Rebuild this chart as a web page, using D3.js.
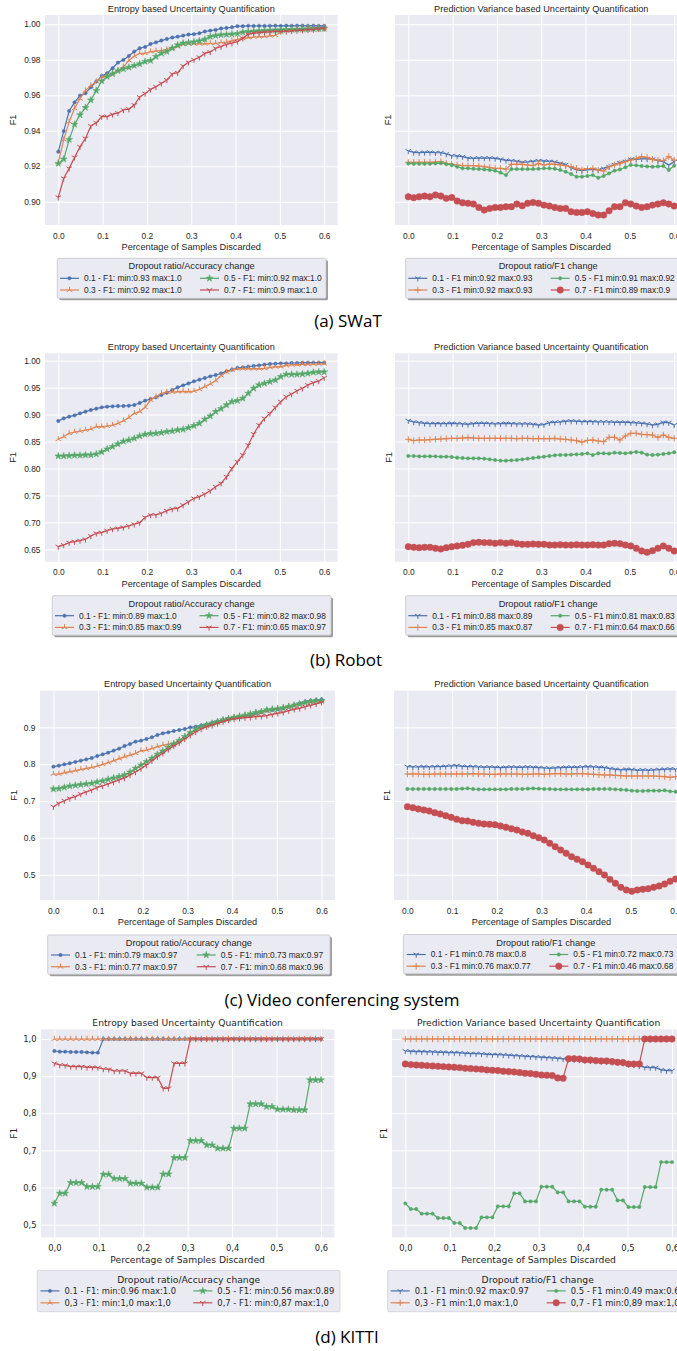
<!DOCTYPE html>
<html>
<head>
<meta charset="utf-8">
<script src="https://cdn.jsdelivr.net/npm/d3@7"></script>
<style>
  body { margin: 0; background: #fff; }
  svg { display: block; }
</style>
</head>
<body>
<script>
// x: 50 evaluation points between 0 and 0.6 (share of samples discarded)
var xs = d3.range(50).map(function(i) { return i * 0.6 / 49; });
var xTickVals = [0, 0.1, 0.2, 0.3, 0.4, 0.5, 0.6];

// ---- (a) SWaT ----
var swatEnt01 = [0.9282,0.9398,0.9511,0.9560,0.9598,0.9611,0.9645,0.9677,0.9709,0.9724,
  0.9752,0.9784,0.9799,0.9821,0.9846,0.9865,0.9872,0.9889,0.9898,0.9908,
  0.9917,0.9925,0.9930,0.9936,0.9942,0.9944,0.9949,0.9959,0.9964,0.9968,
  0.9976,0.9979,0.9983,0.9989,0.9989,0.9991,0.9990,0.9991,0.9990,0.9991,
  0.9992,0.9991,0.9992,0.9991,0.9992,0.9992,0.9991,0.9992,0.9991,0.9991];
var swatEnt03 = [0.9222,0.9350,0.9450,0.9526,0.9580,0.9626,0.9654,0.9677,0.9705,0.9710,
  0.9724,0.9740,0.9760,0.9795,0.9820,0.9836,0.9836,0.9846,0.9850,0.9852,
  0.9858,0.9865,0.9874,0.9888,0.9890,0.9890,0.9890,0.9890,0.9893,0.9893,
  0.9897,0.9900,0.9908,0.9915,0.9920,0.9925,0.9928,0.9930,0.9932,0.9935,
  0.9938,0.9955,0.9965,0.9970,0.9974,0.9976,0.9978,0.9980,0.9980,0.9981];
var swatEnt05 = [0.9215,0.9240,0.9350,0.9436,0.9489,0.9530,0.9573,0.9626,0.9680,0.9705,
  0.9720,0.9737,0.9748,0.9757,0.9767,0.9776,0.9790,0.9795,0.9818,0.9836,
  0.9846,0.9865,0.9883,0.9893,0.9897,0.9900,0.9906,0.9915,0.9930,0.9936,
  0.9940,0.9942,0.9944,0.9947,0.9955,0.9959,0.9960,0.9962,0.9964,0.9966,
  0.9967,0.9968,0.9969,0.9970,0.9971,0.9972,0.9973,0.9974,0.9975,0.9976];
var swatEnt07 = [0.9025,0.9132,0.9188,0.9250,0.9310,0.9357,0.9427,0.9445,0.9480,0.9480,
  0.9492,0.9500,0.9517,0.9522,0.9545,0.9590,0.9610,0.9633,0.9648,0.9667,
  0.9686,0.9720,0.9727,0.9765,0.9786,0.9800,0.9814,0.9836,0.9844,0.9865,
  0.9874,0.9887,0.9893,0.9902,0.9921,0.9944,0.9950,0.9953,0.9955,0.9957,
  0.9959,0.9959,0.9960,0.9962,0.9964,0.9966,0.9968,0.9970,0.9974,0.9976];
var swatVar01 = [0.9286,0.9278,0.9276,0.9278,0.9278,0.9276,0.9276,0.9269,0.9259,0.9257,
  0.9254,0.9246,0.9244,0.9246,0.9246,0.9246,0.9244,0.9239,0.9233,0.9231,
  0.9227,0.9222,0.9224,0.9227,0.9231,0.9229,0.9227,0.9224,0.9216,0.9209,
  0.9192,0.9179,0.9175,0.9179,0.9182,0.9179,0.9188,0.9197,0.9209,0.9220,
  0.9227,0.9239,0.9239,0.9242,0.9241,0.9239,0.9231,0.9226,0.9207,0.9226];
var swatVar03 = [0.9222,0.9222,0.9222,0.9222,0.9222,0.9224,0.9226,0.9216,0.9212,0.9207,
  0.9203,0.9203,0.9203,0.9201,0.9197,0.9194,0.9188,0.9188,0.9184,0.9211,
  0.9211,0.9211,0.9207,0.9203,0.9216,0.9207,0.9212,0.9211,0.9207,0.9203,
  0.9197,0.9188,0.9182,0.9186,0.9188,0.9179,0.9173,0.9197,0.9207,0.9216,
  0.9226,0.9235,0.9244,0.9254,0.9250,0.9239,0.9235,0.9231,0.9254,0.9235];
var swatVar05 = [0.9216,0.9214,0.9214,0.9214,0.9214,0.9216,0.9218,0.9212,0.9207,0.9197,
  0.9188,0.9188,0.9186,0.9184,0.9182,0.9179,0.9175,0.9164,0.9150,0.9184,
  0.9184,0.9184,0.9184,0.9184,0.9186,0.9188,0.9188,0.9186,0.9179,0.9169,
  0.9156,0.9141,0.9141,0.9145,0.9150,0.9135,0.9145,0.9160,0.9175,0.9182,
  0.9194,0.9207,0.9205,0.9201,0.9199,0.9197,0.9199,0.9201,0.9179,0.9203];
var swatVar07 = [0.9028,0.9023,0.9028,0.9032,0.9028,0.9038,0.9032,0.9019,0.9024,0.9004,
  0.8994,0.8991,0.8987,0.8968,0.8953,0.8962,0.8968,0.8968,0.8972,0.8972,
  0.8987,0.8977,0.8991,0.8996,0.8991,0.8981,0.8976,0.8968,0.8962,0.8962,
  0.8944,0.8940,0.8940,0.8944,0.8934,0.8925,0.8925,0.8949,0.8972,0.8972,
  0.8994,0.8987,0.8976,0.8968,0.8972,0.8981,0.8987,0.8994,0.8987,0.8976];

// ---- (b) Robot ----
var robotEnt01 = [0.8881,0.8930,0.8961,0.8986,0.9023,0.9054,0.9085,0.9110,0.9134,0.9147,
  0.9153,0.9159,0.9159,0.9165,0.9178,0.9215,0.9258,0.9289,0.9320,0.9363,
  0.9406,0.9456,0.9505,0.9542,0.9579,0.9617,0.9648,0.9678,0.9709,0.9734,
  0.9765,0.9802,0.9833,0.9864,0.9876,0.9889,0.9901,0.9913,0.9926,0.9938,
  0.9944,0.9951,0.9951,0.9957,0.9957,0.9963,0.9963,0.9963,0.9963,0.9963];
var robotEnt03 = [0.8541,0.8590,0.8652,0.8677,0.8695,0.8714,0.8732,0.8776,0.8776,0.8788,
  0.8806,0.8837,0.8887,0.8943,0.9023,0.9054,0.9134,0.9270,0.9332,0.9394,
  0.9419,0.9419,0.9425,0.9431,0.9425,0.9437,0.9468,0.9518,0.9567,0.9629,
  0.9722,0.9790,0.9827,0.9852,0.9852,0.9852,0.9852,0.9852,0.9858,0.9876,
  0.9889,0.9889,0.9913,0.9926,0.9926,0.9932,0.9932,0.9938,0.9938,0.9944];
var robotEnt05 = [0.8231,0.8231,0.8237,0.8244,0.8244,0.8250,0.8250,0.8268,0.8306,0.8361,
  0.8405,0.8454,0.8503,0.8528,0.8559,0.8602,0.8633,0.8646,0.8652,0.8664,
  0.8683,0.8695,0.8714,0.8726,0.8757,0.8794,0.8837,0.8912,0.8973,0.9054,
  0.9110,0.9178,0.9240,0.9258,0.9301,0.9394,0.9487,0.9549,0.9579,0.9610,
  0.9641,0.9703,0.9746,0.9746,0.9746,0.9753,0.9765,0.9784,0.9790,0.9790];
var robotEnt07 = [0.6549,0.6580,0.6624,0.6642,0.6661,0.6686,0.6747,0.6797,0.6810,0.6846,
  0.6877,0.6890,0.6908,0.6933,0.6964,0.6995,0.7094,0.7137,0.7137,0.7168,
  0.7217,0.7248,0.7260,0.7322,0.7384,0.7446,0.7477,0.7526,0.7588,0.7662,
  0.7724,0.7848,0.8003,0.8126,0.8250,0.8435,0.8640,0.8806,0.8930,0.9023,
  0.9134,0.9240,0.9332,0.9382,0.9443,0.9487,0.9549,0.9592,0.9623,0.9685];
var robotVar01 = [0.8887,0.8862,0.8850,0.8837,0.8831,0.8831,0.8831,0.8831,0.8837,0.8831,
  0.8825,0.8819,0.8831,0.8837,0.8837,0.8831,0.8825,0.8831,0.8837,0.8831,
  0.8825,0.8825,0.8825,0.8819,0.8806,0.8813,0.8850,0.8856,0.8862,0.8874,
  0.8881,0.8874,0.8868,0.8868,0.8868,0.8862,0.8862,0.8862,0.8856,0.8856,
  0.8856,0.8850,0.8844,0.8837,0.8825,0.8806,0.8819,0.8856,0.8850,0.8806];
var robotVar03 = [0.8541,0.8516,0.8528,0.8528,0.8534,0.8541,0.8547,0.8553,0.8559,0.8559,
  0.8565,0.8571,0.8565,0.8559,0.8559,0.8559,0.8559,0.8559,0.8559,0.8559,
  0.8553,0.8559,0.8559,0.8553,0.8553,0.8553,0.8553,0.8559,0.8547,0.8541,
  0.8528,0.8516,0.8491,0.8522,0.8528,0.8510,0.8497,0.8578,0.8578,0.8528,
  0.8602,0.8652,0.8652,0.8633,0.8627,0.8621,0.8578,0.8621,0.8578,0.8559];
var robotVar05 = [0.8231,0.8231,0.8225,0.8225,0.8225,0.8225,0.8219,0.8219,0.8213,0.8200,
  0.8194,0.8188,0.8188,0.8188,0.8182,0.8169,0.8157,0.8145,0.8145,0.8151,
  0.8157,0.8169,0.8182,0.8194,0.8207,0.8219,0.8231,0.8244,0.8250,0.8250,
  0.8256,0.8262,0.8268,0.8281,0.8250,0.8281,0.8281,0.8275,0.8293,0.8287,
  0.8281,0.8293,0.8306,0.8293,0.8256,0.8250,0.8256,0.8268,0.8281,0.8300];
var robotVar07 = [0.6549,0.6537,0.6531,0.6537,0.6537,0.6518,0.6506,0.6531,0.6549,0.6562,
  0.6574,0.6593,0.6624,0.6630,0.6624,0.6624,0.6611,0.6624,0.6611,0.6624,
  0.6605,0.6593,0.6593,0.6599,0.6593,0.6593,0.6580,0.6580,0.6586,0.6580,
  0.6580,0.6586,0.6580,0.6580,0.6586,0.6580,0.6580,0.6605,0.6611,0.6605,
  0.6580,0.6562,0.6518,0.6469,0.6444,0.6475,0.6518,0.6562,0.6518,0.6469];

// ---- (c) Video conferencing system ----
var videoEnt01 = [0.7932,0.7959,0.7995,0.8023,0.8059,0.8095,0.8131,0.8167,0.8222,0.8267,
  0.8312,0.8367,0.8421,0.8493,0.8548,0.8611,0.8638,0.8683,0.8729,0.8792,
  0.8837,0.8864,0.8900,0.8928,0.8955,0.9000,0.9018,0.9054,0.9081,0.9127,
  0.9163,0.9199,0.9235,0.9262,0.9281,0.9308,0.9335,0.9380,0.9407,0.9452,
  0.9471,0.9489,0.9516,0.9561,0.9606,0.9652,0.9697,0.9724,0.9742,0.9760];
var videoEnt03 = [0.7733,0.7733,0.7769,0.7796,0.7824,0.7860,0.7887,0.7914,0.7950,0.7995,
  0.8041,0.8095,0.8149,0.8204,0.8249,0.8294,0.8367,0.8385,0.8430,0.8475,
  0.8520,0.8548,0.8566,0.8656,0.8747,0.8837,0.8928,0.9000,0.9036,0.9081,
  0.9136,0.9199,0.9235,0.9271,0.9308,0.9326,0.9353,0.9398,0.9425,0.9462,
  0.9498,0.9516,0.9543,0.9579,0.9606,0.9633,0.9670,0.9697,0.9724,0.9724];
var videoEnt05 = [0.7326,0.7335,0.7371,0.7407,0.7425,0.7443,0.7462,0.7480,0.7516,0.7543,
  0.7588,0.7624,0.7661,0.7706,0.7787,0.7887,0.7977,0.8068,0.8158,0.8267,
  0.8357,0.8457,0.8548,0.8638,0.8747,0.8855,0.8946,0.9018,0.9063,0.9109,
  0.9154,0.9199,0.9235,0.9271,0.9299,0.9326,0.9362,0.9398,0.9425,0.9471,
  0.9489,0.9498,0.9525,0.9561,0.9597,0.9633,0.9670,0.9697,0.9715,0.9724];
var videoEnt07 = [0.6846,0.6937,0.7009,0.7072,0.7118,0.7190,0.7244,0.7299,0.7371,0.7407,
  0.7462,0.7516,0.7570,0.7624,0.7706,0.7787,0.7878,0.7977,0.8095,0.8204,
  0.8294,0.8403,0.8493,0.8584,0.8683,0.8783,0.8873,0.8955,0.9018,0.9054,
  0.9109,0.9154,0.9199,0.9226,0.9244,0.9262,0.9271,0.9290,0.9299,0.9317,
  0.9353,0.9380,0.9407,0.9452,0.9489,0.9516,0.9561,0.9597,0.9633,0.9679];
var videoVar01 = [0.7932,0.7923,0.7923,0.7932,0.7923,0.7932,0.7932,0.7941,0.7950,0.7959,
  0.7941,0.7932,0.7932,0.7923,0.7914,0.7923,0.7914,0.7905,0.7914,0.7923,
  0.7914,0.7914,0.7923,0.7914,0.7905,0.7896,0.7887,0.7896,0.7905,0.7914,
  0.7914,0.7914,0.7923,0.7932,0.7923,0.7914,0.7905,0.7878,0.7860,0.7842,
  0.7860,0.7851,0.7833,0.7842,0.7833,0.7842,0.7851,0.7860,0.7869,0.7860];
var videoVar03 = [0.7733,0.7733,0.7733,0.7724,0.7724,0.7733,0.7733,0.7733,0.7733,0.7733,
  0.7733,0.7733,0.7742,0.7733,0.7733,0.7724,0.7724,0.7733,0.7733,0.7733,
  0.7733,0.7724,0.7724,0.7733,0.7733,0.7724,0.7733,0.7742,0.7742,0.7733,
  0.7733,0.7742,0.7742,0.7733,0.7724,0.7715,0.7706,0.7706,0.7697,0.7688,
  0.7679,0.7679,0.7679,0.7679,0.7679,0.7679,0.7670,0.7661,0.7643,0.7661];
var videoVar05 = [0.7326,0.7326,0.7326,0.7326,0.7326,0.7326,0.7326,0.7326,0.7326,0.7326,
  0.7335,0.7344,0.7326,0.7317,0.7317,0.7317,0.7317,0.7317,0.7317,0.7326,
  0.7326,0.7326,0.7335,0.7344,0.7335,0.7326,0.7326,0.7317,0.7317,0.7317,
  0.7317,0.7317,0.7317,0.7317,0.7326,0.7326,0.7326,0.7326,0.7317,0.7308,
  0.7299,0.7281,0.7271,0.7271,0.7281,0.7281,0.7281,0.7290,0.7262,0.7253];
var videoVar07 = [0.6846,0.6819,0.6783,0.6756,0.6729,0.6683,0.6647,0.6602,0.6557,0.6502,
  0.6466,0.6457,0.6421,0.6394,0.6376,0.6367,0.6357,0.6321,0.6285,0.6249,
  0.6213,0.6158,0.6122,0.6059,0.6004,0.5941,0.5851,0.5760,0.5670,0.5579,
  0.5489,0.5416,0.5353,0.5262,0.5172,0.5081,0.4991,0.4873,0.4765,0.4656,
  0.4584,0.4548,0.4584,0.4602,0.4620,0.4656,0.4692,0.4747,0.4819,0.4882];

// ---- (d) KITTI ----
var kittiEnt01 = [0.9677,0.9659,0.9659,0.9650,0.9650,0.9650,0.9641,0.9632,0.9632,1.0,
  1.0,1.0,1.0,1.0,1.0,1.0,1.0,1.0,1.0,1.0,
  1.0,1.0,1.0,1.0,1.0,1.0,1.0,1.0,1.0,1.0,
  1.0,1.0,1.0,1.0,1.0,1.0,1.0,1.0,1.0,1.0,
  1.0,1.0,1.0,1.0,1.0,1.0,1.0,1.0,1.0,1.0];
var kittiEnt03 = [1.0,1.0,1.0,1.0,1.0,1.0,1.0,1.0,1.0,1.0,
  1.0,1.0,1.0,1.0,1.0,1.0,1.0,1.0,1.0,1.0,
  1.0,1.0,1.0,1.0,1.0,1.0,1.0,1.0,1.0,1.0,
  1.0,1.0,1.0,1.0,1.0,1.0,1.0,1.0,1.0,1.0,
  1.0,1.0,1.0,1.0,1.0,1.0,1.0,1.0,1.0,1.0];
var kittiEnt05 = [0.5575,0.5844,0.5844,0.6131,0.6131,0.6131,0.6023,0.6023,0.6023,0.6355,
  0.6355,0.6239,0.6239,0.6239,0.6113,0.6113,0.6113,0.6005,0.6005,0.6005,
  0.6364,0.6364,0.6804,0.6804,0.6804,0.7262,0.7262,0.7262,0.7145,0.7145,
  0.7056,0.7056,0.7056,0.7594,0.7594,0.7594,0.8250,0.8250,0.8250,0.8178,
  0.8178,0.8106,0.8106,0.8106,0.8088,0.8088,0.8088,0.8896,0.8896,0.8896];
var kittiEnt07 = [0.9345,0.9300,0.9291,0.9255,0.9255,0.9255,0.9237,0.9237,0.9228,0.9192,
  0.9183,0.9138,0.9138,0.9138,0.9075,0.9075,0.9075,0.8959,0.8959,0.8959,
  0.8672,0.8672,0.9345,0.9345,0.9345,1.0,1.0,1.0,1.0,1.0,
  1.0,1.0,1.0,1.0,1.0,1.0,1.0,1.0,1.0,1.0,
  1.0,1.0,1.0,1.0,1.0,1.0,1.0,1.0,1.0,1.0];
var kittiVar01 = [0.9677,0.9668,0.9659,0.9659,0.9651,0.9651,0.9642,0.9642,0.9633,0.9633,
  0.9624,0.9615,0.9606,0.9606,0.9597,0.9588,0.9579,0.9579,0.9570,0.9561,
  0.9552,0.9543,0.9534,0.9525,0.9516,0.9507,0.9498,0.9489,0.9480,0.9462,
  0.9453,0.9444,0.9435,0.9427,0.9418,0.9409,0.9400,0.9391,0.9373,0.9364,
  0.9346,0.9319,0.9301,0.9274,0.9238,0.9229,0.9229,0.9167,0.9149,0.9149];
var kittiVar03 = [1.0,1.0,1.0,1.0,1.0,1.0,1.0,1.0,1.0,1.0,
  1.0,1.0,1.0,1.0,1.0,1.0,1.0,1.0,1.0,1.0,
  1.0,1.0,1.0,1.0,1.0,1.0,1.0,1.0,1.0,1.0,
  1.0,1.0,1.0,1.0,1.0,1.0,1.0,1.0,1.0,1.0,
  1.0,1.0,1.0,1.0,1.0,1.0,1.0,1.0,1.0,1.0];
var kittiVar05 = [0.5573,0.5421,0.5421,0.5296,0.5296,0.5296,0.5179,0.5179,0.5179,0.5045,
  0.5045,0.4910,0.4910,0.4910,0.5197,0.5197,0.5197,0.5493,0.5493,0.5493,
  0.5842,0.5842,0.5627,0.5627,0.5627,0.6022,0.6022,0.6022,0.5869,0.5869,
  0.5627,0.5627,0.5627,0.5484,0.5484,0.5484,0.5941,0.5941,0.5941,0.5654,
  0.5654,0.5475,0.5475,0.5475,0.6013,0.6013,0.6013,0.6685,0.6685,0.6685];
var kittiVar07 = [0.9328,0.9310,0.9301,0.9292,0.9283,0.9274,0.9265,0.9256,0.9247,0.9238,
  0.9229,0.9211,0.9203,0.9194,0.9185,0.9167,0.9158,0.9149,0.9131,0.9122,
  0.9113,0.9095,0.9077,0.9068,0.9050,0.9032,0.9023,0.9014,0.8952,0.8943,
  0.9471,0.9471,0.9462,0.9435,0.9435,0.9418,0.9409,0.9409,0.9391,0.9373,
  0.9364,0.9328,0.9328,0.9328,1.0,1.0,1.0,1.0,1.0,1.0];

// legend labels
var swatEntLabels  = ["0.1 - F1: min:0.93 max:1.0", "0.3 - F1: min:0.92 max:1.0", "0.5 - F1: min:0.92 max:1.0", "0.7 - F1: min:0.9 max:1.0"];
var swatVarLabels  = ["0.1 - F1 min:0.92 max:0.93", "0.3 - F1 min:0.92 max:0.93", "0.5 - F1 min:0.91 max:0.92", "0.7 - F1 min:0.89 max:0.9"];
var robotEntLabels = ["0.1 - F1: min:0.89 max:1.0", "0.3 - F1: min:0.85 max:0.99", "0.5 - F1: min:0.82 max:0.98", "0.7 - F1: min:0.65 max:0.97"];
var robotVarLabels = ["0.1 - F1 min:0.88 max:0.89", "0.3 - F1 min:0.85 max:0.87", "0.5 - F1 min:0.81 max:0.83", "0.7 - F1 min:0.64 max:0.66"];
var videoEntLabels = ["0.1 - F1: min:0.79 max:0.97", "0.3 - F1: min:0.77 max:0.97", "0.5 - F1: min:0.73 max:0.97", "0.7 - F1: min:0.68 max:0.96"];
var videoVarLabels = ["0.1 - F1 min:0.78 max:0.8", "0.3 - F1 min:0.76 max:0.77", "0.5 - F1 min:0.72 max:0.73", "0.7 - F1 min:0.46 max:0.68"];
var kittiEntLabels = ["0.1 - F1: min:0.96 max:1.0", "0,3 - F1: min:1,0 max:1,0", "0.5 - F1: min:0.56 max:0.89", "0,7 - F1: min:0,87 max:1,0"];
var kittiVarLabels = ["0.1 - F1 min:0.92 max:0.97", "0,3 - F1 min:1,0 max:1,0", "0.5 - F1 min:0.49 max:0.67", "0,7 - F1 min:0,89 max:1,0"];

var captions = ["(a) SWaT", "(b) Robot", "(c) Video conferencing system", "(d) KITTI"];

var colors = ["#4C72B0", "#DD8452", "#55A868", "#C44E52"];
var entMarkers = ["dot", "tri_up", "star", "tri_down"];
var varMarkers = ["tri_down", "plus", "dot", "circle"];

var fontA = "'Liberation Sans', Arial, sans-serif";
var fontD = "'DejaVu Sans', sans-serif";
var textColor = "#262626";

var fmt2 = d3.format(".2f"), fmt1 = d3.format(".1f");
var fmtComma = function(d) { return fmt1(d).replace(".", ","); };

// panel layout (pixel boxes)
var panels = [
  {x0: 45, x1: 337.5, y0: 15, y1: 225, yDom: [0.8869, 1.0052], yTicks: [0.90,0.92,0.94,0.96,0.98,1.00], yFmt: fmt2, xFmt: fmt1,
   font: fontA, f1: 32.3, showY: true, title: "Entropy based Uncertainty Quantification", markers: entMarkers,
   series: [swatEnt01, swatEnt03, swatEnt05, swatEnt07], labels: swatEntLabels, lTitle: "Dropout ratio/Accuracy change",
   leg: {x: 57.3, y: 258.3, w: 268.7, h: 40, h1: 60, h2: 200, shadow: true}},
  {x0: 395, x1: 687.5, y0: 15, y1: 225, yDom: [0.8869, 1.0052], yTicks: [0.90,0.92,0.94,0.96,0.98,1.00], yFmt: fmt2, xFmt: fmt1,
   font: fontA, f1: 7, showY: false, title: "Prediction Variance based Uncertainty Quantification", markers: varMarkers,
   series: [swatVar01, swatVar03, swatVar05, swatVar07], labels: swatVarLabels, lTitle: "Dropout ratio/F1 change",
   leg: {x: 405.7, y: 258.3, w: 285, h: 40, h1: 408.3, h2: 550.7, shadow: true}},
  {x0: 45, x1: 337.5, y0: 353.3, y1: 561.7, yDom: [0.627, 1.0137], yTicks: [0.65,0.70,0.75,0.80,0.85,0.90,0.95,1.00], yFmt: fmt2, xFmt: fmt1,
   font: fontA, f1: 32.3, showY: true, title: "Entropy based Uncertainty Quantification", markers: entMarkers,
   series: [robotEnt01, robotEnt03, robotEnt05, robotEnt07], labels: robotEntLabels, lTitle: "Dropout ratio/Accuracy change",
   leg: {x: 52.3, y: 595.7, w: 278.7, h: 39.5, h1: 55, h2: 199.5, shadow: true}},
  {x0: 395, x1: 687.5, y0: 353.3, y1: 561.7, yDom: [0.627, 1.0137], yTicks: [0.65,0.70,0.75,0.80,0.85,0.90,0.95,1.00], yFmt: fmt2, xFmt: fmt1,
   font: fontA, f1: 6.7, showY: false, title: "Prediction Variance based Uncertainty Quantification", markers: varMarkers,
   series: [robotVar01, robotVar03, robotVar05, robotVar07], labels: robotVarLabels, lTitle: "Dropout ratio/F1 change",
   leg: {x: 405.7, y: 595.7, w: 285, h: 39.5, h1: 408.3, h2: 550.7, shadow: true}},
  {x0: 40, x1: 335, y0: 690.7, y1: 900, yDom: [0.4313, 0.9994], yTicks: [0.5,0.6,0.7,0.8,0.9], yFmt: fmt1, xFmt: fmt1,
   font: fontA, f1: 26.7, showY: true, title: "Entropy based Uncertainty Quantification", markers: entMarkers,
   series: [videoEnt01, videoEnt03, videoEnt05, videoEnt07], labels: videoEntLabels, lTitle: "Dropout ratio/Accuracy change",
   leg: {x: 47.7, y: 935, w: 282.3, h: 39.3, h1: 51, h2: 196.7, shadow: true}},
  {x0: 394, x1: 689, y0: 690.7, y1: 900, yDom: [0.4313, 0.9994], yTicks: [0.5,0.6,0.7,0.8,0.9], yFmt: fmt1, xFmt: fmt1,
   font: fontA, f1: 7.3, showY: false, title: "Prediction Variance based Uncertainty Quantification", markers: varMarkers,
   series: [videoVar01, videoVar03, videoVar05, videoVar07], labels: videoVarLabels, lTitle: "Dropout ratio/F1 change",
   leg: {x: 403.3, y: 934.5, w: 285, h: 39.3, h1: 406.7, h2: 549.3, shadow: true}},
  {x0: 41, x1: 334.3, y0: 1029.3, y1: 1237.3, yDom: [0.466, 1.0261], yTicks: [0.5,0.6,0.7,0.8,0.9,1.0], yFmt: fmtComma, xFmt: fmtComma,
   font: fontD, f1: 27.7, showY: true, title: "Entropy based Uncertainty Quantification", markers: entMarkers,
   series: [kittiEnt01, kittiEnt03, kittiEnt05, kittiEnt07], labels: kittiEntLabels, lTitle: "Dropout ratio/Accuracy change",
   leg: {x: 37.3, y: 1270.3, w: 302.7, h: 41.4, h1: 40.5, h2: 193.3, shadow: false}},
  {x0: 392, x1: 685.3, y0: 1029.3, y1: 1237.3, yDom: [0.466, 1.0261], yTicks: [0.5,0.6,0.7,0.8,0.9,1.0], yFmt: fmtComma, xFmt: fmtComma,
   font: fontD, f1: 8.7, showY: false, title: "Prediction Variance based Uncertainty Quantification", markers: varMarkers,
   series: [kittiVar01, kittiVar03, kittiVar05, kittiVar07], labels: kittiVarLabels, lTitle: "Dropout ratio/F1 change",
   leg: {x: 387.7, y: 1270.3, w: 300, h: 41.4, h1: 390.7, h2: 546.7, shadow: false}}
];

var captionPos = [{x: 348, y: 327}, {x: 346, y: 666}, {x: 342, y: 1006}, {x: 347, y: 1343}];

var svg = d3.select("body").append("svg")
    .attr("width", 677)
    .attr("height", 1351);
svg.append("rect").attr("width", 677).attr("height", 1351).attr("fill", "#fff");

// marker shapes, centred on 0,0
function markerPath(type) {
  var s = 3.2;
  if (type == "dot") return d3.symbol(d3.symbolCircle, 9)();
  if (type == "circle") return d3.symbol(d3.symbolCircle, 33)();
  if (type == "star") return d3.symbol(d3.symbolStar, 15)();
  if (type == "plus") return "M" + (-s) + ",0H" + s + "M0," + (-s) + "V" + s;
  var c = 0.866 * s, h = 0.5 * s;
  if (type == "tri_up") return "M0,0V" + (-s) + "M0,0L" + (-c) + "," + h + "M0,0L" + c + "," + h;
  return "M0,0V" + s + "M0,0L" + (-c) + "," + (-h) + "M0,0L" + c + "," + (-h); // tri_down
}
function isFilled(type) { return type == "dot" || type == "circle" || type == "star"; }

function drawMarkers(g, type, color, pts) {
  g.selectAll(null)
    .data(pts)
    .enter()
    .append("path")
    .attr("d", markerPath(type))
    .attr("transform", function(d) { return "translate(" + d[0] + "," + d[1] + ")"; })
    .attr("fill", isFilled(type) ? color : "none")
    .attr("stroke", color)
    .attr("stroke-width", isFilled(type) ? 0.5 : 1);
}

panels.forEach(function(p, pi) {
  var x = d3.scaleLinear().domain([-0.03, 0.63]).range([p.x0, p.x1]);
  var y = d3.scaleLinear().domain(p.yDom).range([p.y1, p.y0]);
  var w = p.x1 - p.x0, h = p.y1 - p.y0;
  var g = svg.append("g");

  // background + grid
  g.append("rect").attr("x", p.x0).attr("y", p.y0).attr("width", w).attr("height", h).attr("fill", "#EAEAF2");
  g.append("g")
    .attr("transform", "translate(0," + p.y1 + ")")
    .call(d3.axisBottom(x).tickValues(xTickVals).tickSize(-h).tickFormat(""))
    .call(function(a) { a.select(".domain").remove(); })
    .selectAll("line").attr("stroke", "#fff").attr("stroke-width", 1);
  g.append("g")
    .attr("transform", "translate(" + p.x0 + ",0)")
    .call(d3.axisLeft(y).tickValues(p.yTicks).tickSize(-w).tickFormat(""))
    .call(function(a) { a.select(".domain").remove(); })
    .selectAll("line").attr("stroke", "#fff").attr("stroke-width", 1);

  // series
  var clipId = "clip" + pi;
  svg.append("clipPath").attr("id", clipId)
    .append("rect").attr("x", p.x0).attr("y", p.y0).attr("width", w).attr("height", h);
  var plot = g.append("g").attr("clip-path", "url(#" + clipId + ")");
  var line = d3.line().x(function(d) { return x(d[0]); }).y(function(d) { return y(d[1]); });

  p.series.forEach(function(vals, si) {
    var pts = vals.map(function(v, i) { return [xs[i], v]; });
    plot.append("path")
      .attr("d", line(pts))
      .attr("fill", "none")
      .attr("stroke", colors[si])
      .attr("stroke-width", 1.2);
    drawMarkers(plot, p.markers[si], colors[si], pts.map(function(d) { return [x(d[0]), y(d[1])]; }));
  });

  // tick labels
  var xa = g.append("g")
    .attr("transform", "translate(0," + p.y1 + ")")
    .call(d3.axisBottom(x).tickValues(xTickVals).tickSize(0).tickPadding(7.7).tickFormat(p.xFmt));
  xa.select(".domain").remove();
  xa.attr("font-family", p.font).attr("font-size", 8.4).attr("color", textColor);

  if (p.showY) {
    var ya = g.append("g")
      .attr("transform", "translate(" + p.x0 + ",0)")
      .call(d3.axisLeft(y).tickValues(p.yTicks).tickSize(0).tickPadding(4.5).tickFormat(p.yFmt));
    ya.select(".domain").remove();
    ya.attr("font-family", p.font).attr("font-size", 8.4).attr("color", textColor);
  }

  // title, axis labels
  g.append("text")
    .attr("x", (p.x0 + p.x1) / 2).attr("y", p.y0 - 3.3)
    .attr("text-anchor", "middle")
    .attr("font-family", p.font).attr("font-size", 9.2).attr("fill", textColor)
    .text(p.title);
  g.append("text")
    .attr("x", (p.x0 + p.x1) / 2).attr("y", p.y1 + 25.3)
    .attr("text-anchor", "middle")
    .attr("font-family", p.font).attr("font-size", 9.2).attr("fill", textColor)
    .text("Percentage of Samples Discarded");
  g.append("text")
    .attr("transform", "translate(" + (p.x0 - p.f1) + "," + ((p.y0 + p.y1) / 2) + ") rotate(-90)")
    .attr("dy", "0.35em")
    .attr("text-anchor", "middle")
    .attr("font-family", p.font).attr("font-size", 9.2).attr("fill", textColor)
    .text("F1");

  // legend
  var L = p.leg;
  var lg = svg.append("g");
  if (L.shadow) {
    lg.append("rect").attr("x", L.x + 2).attr("y", L.y + 2).attr("width", L.w).attr("height", L.h)
      .attr("rx", 1.5).attr("fill", "#4a4a4a").attr("opacity", 0.55);
  }
  lg.append("rect").attr("x", L.x).attr("y", L.y).attr("width", L.w).attr("height", L.h)
    .attr("rx", 1.5).attr("fill", "#EAEAF2").attr("stroke", L.shadow ? "#c4c4c8" : "#cfcfd4").attr("stroke-width", 0.8);
  var isD = p.font == fontD;
  lg.append("text")
    .attr("x", L.x + L.w / 2).attr("y", L.y + (isD ? 9 : 7.8)).attr("dy", "0.35em")
    .attr("text-anchor", "middle")
    .attr("font-family", p.font).attr("font-size", 9.2).attr("fill", textColor)
    .text(p.lTitle);
  var rowY = [L.y + (isD ? 20.6 : 20), L.y + (isD ? 32.5 : 31.7)];
  p.labels.forEach(function(lab, si) {
    var hx = si < 2 ? L.h1 : L.h2;
    var ry = rowY[si % 2];
    lg.append("line").attr("x1", hx).attr("x2", hx + 19).attr("y1", ry).attr("y2", ry)
      .attr("stroke", colors[si]).attr("stroke-width", 1.2);
    drawMarkers(lg, p.markers[si], colors[si], [[hx + 9.5, ry]]);
    lg.append("text")
      .attr("x", hx + 24).attr("y", ry).attr("dy", "0.35em")
      .attr("font-family", p.font).attr("font-size", 8.4).attr("fill", textColor)
      .text(lab);
  });
});

// sub-figure captions
captions.forEach(function(c, i) {
  svg.append("text")
    .attr("x", captionPos[i].x).attr("y", captionPos[i].y)
    .attr("text-anchor", "middle")
    .attr("font-family", "'Linux Biolinum', 'Open Sans', sans-serif")
    .attr("font-size", 17)
    .attr("fill", "#000")
    .text(c);
});
</script>
</body>
</html>
